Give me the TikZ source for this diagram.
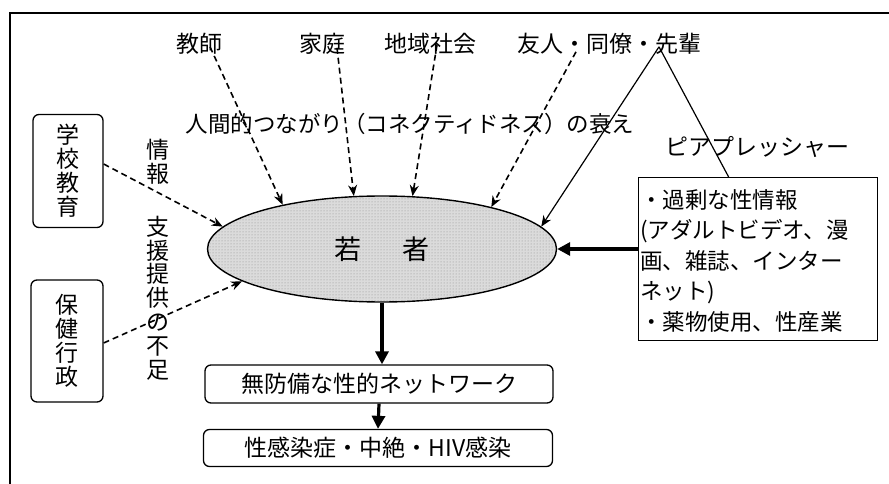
\documentclass[tikz,border=0pt]{standalone}
\usepackage{fontspec}
\newfontfamily\jp{Noto Sans CJK JP}
\usetikzlibrary{arrows.meta,shapes.geometric,patterns}
\begin{document}
\begin{tikzpicture}[x=1pt,y=-1pt,
  lbl/.style={font=\jp\fontsize{23}{26}\selectfont,inner sep=0pt},
  vtext/.style={font=\jp\fontsize{23}{23.8}\selectfont,inner sep=0pt,align=center},
  rbox/.style={draw,line width=1.3pt,rounded corners=6pt,font=\jp\fontsize{23}{26}\selectfont,inner sep=0pt},
  dasharr/.style={dash pattern=on 6pt off 4pt,line width=1.6pt,-{Stealth[length=11pt,width=9pt]}},
  thinarr/.style={line width=1.2pt,-{Stealth[length=11pt,width=9pt]}},
  thickarr/.style={line width=3.2pt,-{Triangle[length=13pt,width=13pt]}}]
\useasboundingbox (0,0) rectangle (889,484);
\draw[line width=1.5pt] (889,13) -- (10,13) -- (10,484);
% top labels
\node[lbl] (kyoshi) at (199,44) {教師};
\node[lbl] (katei) at (322,44) {家庭};
\node[lbl] (chiiki) at (430,44) {地域社会};
\node[lbl] (yujin) at (609,44) {友人・同僚・先輩};
\node[lbl,font=\jp\fontsize{22.5}{26}\selectfont] (ningen) at (410,124) {人間的つながり（コネクティドネス）の衰え};
\node[lbl] (peer) at (757,147) {ピアプレッシャー};
% left boxes
\node[rbox,minimum width=70pt,minimum height=113pt,align=center,font=\jp\fontsize{23}{24}\selectfont] (gakko) at (68,171) {学\\校\\教\\育};
\node[rbox,minimum width=72pt,minimum height=122pt,align=center,font=\jp\fontsize{23}{24}\selectfont] (hoken) at (67,341) {保\\健\\行\\政};
\node[vtext] (joho) at (158,162) {情\\報};
\node[vtext] (shien) at (158,298) {支\\援\\提\\供\\の\\不\\足};
% ellipse
\node[ellipse,draw,line width=1.4pt,fill=black!14,minimum width=349pt,minimum height=106pt,inner sep=0pt] (yw) at (382,249) {};
\fill[pattern=dots,pattern color=black!45] (yw.center) ellipse (173pt and 52pt);
\node[font=\jp\fontsize{27}{28}\selectfont] (ywtext) at (yw.center) {若\hspace{42pt}者};
% right box
\node[draw,line width=1.3pt,anchor=north west,minimum width=239pt,minimum height=163pt,inner sep=0pt] (rbox) at (638,177) {};
\node[anchor=north west,inner sep=0pt,align=left,font=\jp\fontsize{22.5}{30.5}\selectfont] (rtext) at (640,189)
  {・過剰な性情報\\(アダルトビデオ、漫\\画、雑誌、インター\\ネット)\\・薬物使用、性産業};
% bottom boxes
\node[rbox,minimum width=348pt,minimum height=38pt] (net) at (379,384) {無防備な性的ネットワーク};
\node[rbox,minimum width=349pt,minimum height=37pt] (hiv) at (378,448) {性感染症・中絶・HIV感染};
% dashed arrows
\draw[dasharr] ([xshift=11pt,yshift=8pt]kyoshi.south) -- (yw.156);
\draw[dasharr] ([xshift=15pt,yshift=7pt]katei.south) -- (yw.118);
\draw[dasharr] ([xshift=7pt,yshift=10pt]chiiki.south) -- (yw.60);
\draw[dasharr] ([xshift=-33pt,yshift=3pt]yujin.south) -- (yw.21);
\draw[dasharr] ([yshift=7pt]gakko.east) -- (yw.172.5);
\draw[dasharr] ([yshift=-2pt]hoken.east) -- (yw.193);
% peer pressure
\coordinate (apex) at ([xshift=50pt,yshift=8pt]yujin.south);
\draw[thinarr] (apex) -- (yw.8.5);
\draw[line width=1.2pt] (apex) -- ([xshift=-29.5pt]rbox.north);
% thick arrows
\draw[thickarr] (rbox.west |- yw.east) -- (yw.east);
\draw[thickarr] (yw.south) -- (yw.south |- net.north);
\draw[thickarr] (net.south) -- (hiv.north);
\end{tikzpicture}
\end{document}
